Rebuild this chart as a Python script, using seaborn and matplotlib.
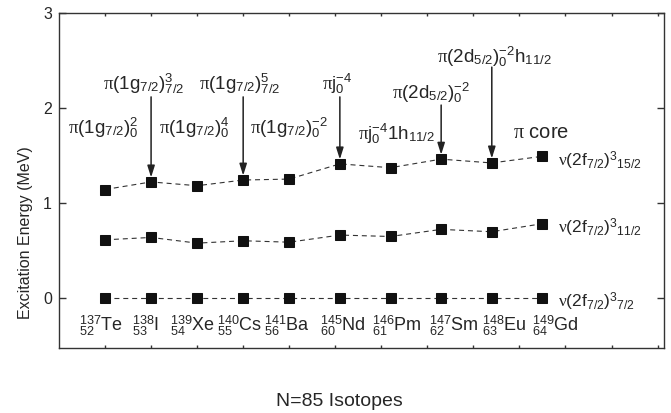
#  Excitation energies of the nu(2f7/2)^3 multiplet along the N=85 isotones

import pandas as pd
import matplotlib.pyplot as plt
import seaborn as sns

sns.set_style("ticks")
plt.rcParams['font.family'] = ['Liberation Sans', 'DejaVu Sans']
plt.rcParams['mathtext.fontset'] = 'custom'
plt.rcParams['mathtext.rm'] = 'Liberation Sans'
plt.rcParams['mathtext.it'] = 'Liberation Serif'
plt.rcParams['mathtext.bf'] = 'Liberation Sans:bold'

#
#  Data (MeV)
#

isotopes = [r'${}^{137}_{52}\mathrm{Te}$', r'${}^{138}_{53}\mathrm{I}$',
            r'${}^{139}_{54}\mathrm{Xe}$', r'${}^{140}_{55}\mathrm{Cs}$',
            r'${}^{141}_{56}\mathrm{Ba}$', r'${}^{145}_{60}\mathrm{Nd}$',
            r'${}^{146}_{61}\mathrm{Pm}$', r'${}^{147}_{62}\mathrm{Sm}$',
            r'${}^{148}_{63}\mathrm{Eu}$', r'${}^{149}_{64}\mathrm{Gd}$']
x_pos = [1, 2, 3, 4, 5, 6.1, 7.2, 8.3, 9.4, 10.5]
e_7_2 = [0, 0, 0, 0, 0, 0, 0, 0, 0, 0]
e_11_2 = [0.61, 0.635, 0.575, 0.60, 0.585, 0.66, 0.645, 0.72, 0.695, 0.78]
e_15_2 = [1.14, 1.22, 1.18, 1.24, 1.25, 1.41, 1.37, 1.46, 1.42, 1.49]

states = [r'$\nu(2\mathrm{f}_{7/2})^{3}{}_{7/2}$',
          r'$\nu(2\mathrm{f}_{7/2})^{3}{}_{11/2}$',
          r'$\nu(2\mathrm{f}_{7/2})^{3}{}_{15/2}$']

configs = [r'$\pi(1\mathrm{g}_{7/2})^{2}_{0}$',
           r'$\pi(1\mathrm{g}_{7/2})^{3}_{7/2}$',
           r'$\pi(1\mathrm{g}_{7/2})^{4}_{0}$',
           r'$\pi(1\mathrm{g}_{7/2})^{5}_{7/2}$',
           r'$\pi(1\mathrm{g}_{7/2})^{-2}_{0}$',
           r'$\pi\mathrm{j}^{-4}_{0}$',
           r'$\pi\mathrm{j}^{-4}_{0}1\mathrm{h}_{11/2}$',
           r'$\pi(2\mathrm{d}_{5/2})^{-2}_{0}$',
           r'$\pi(2\mathrm{d}_{5/2})^{-2}_{0}\mathrm{h}_{11/2}$',
           r'$\pi$ core']

#%%
#
#  Figure and axes sized to the reference
#

fig = plt.figure(figsize=(6.71, 4.13), dpi=100)
ax = fig.add_axes([59/671, 1-348/413, 605/671, 335/413])

for vals, lab in zip([e_7_2, e_11_2, e_15_2], states):
    df = pd.DataFrame({'x': x_pos, 'e': vals})
    sns.lineplot(data=df, x='x', y='e', ax=ax, color='#333333',
                 linewidth=0.8, linestyle=(0, (4.5, 3.5)), marker='s',
                 markersize=6.8, markerfacecolor='#111111',
                 markeredgecolor='#111111', sort=False)
    ax.annotate(lab, xy=(x_pos[-1], vals[-1]), xytext=(11, -7),
                textcoords='offset points', ha='left', va='baseline',
                fontsize=12.5)

#
#  Configuration labels: (text x, baseline, arrow start or None)
#

cfg_layout = [(0.97, 1.726, None), (1.85, 2.19, 2.116), (2.93, 1.726, None),
              (3.92, 2.19, 2.116), (4.99, 1.726, None), (6.05, 2.19, 2.116),
              (7.33, 1.663, None), (8.07, 2.095, 2.03), (9.45, 2.477, 2.43),
              (10.46, 1.684, None)]

for i, (txt, (tx, ty, ay)) in enumerate(zip(configs, cfg_layout)):
    fs = 14.5 if 'core' in txt else 13.5
    ax.text(tx, ty, txt, ha='center', va='baseline', fontsize=fs)
    if ay is not None:
        ax.annotate('', xy=(x_pos[i], e_15_2[i]), xytext=(x_pos[i], ay),
                    arrowprops=dict(arrowstyle='-|>,head_length=0.7,head_width=0.22',
                                    color='#222222', lw=1.1,
                                    shrinkA=0, shrinkB=3.2))

#
#  Isotope names under the ground states
#

iso_x = [0.92, 1.88, 2.89, 3.92, 4.94, 6.16, 7.33, 8.57, 9.68, 10.78]
for tx, name in zip(iso_x, isotopes):
    ax.text(tx, -0.355, name, ha='center', va='baseline', fontsize=13)

ax.set_xlim(0, 13.14)
ax.set_ylim(-0.53, 3)
ax.set_xticks(range(1, 14))
ax.set_xticklabels([])
ax.set_yticks([0, 1, 2, 3])
ax.tick_params(axis='y', direction='in', length=5, width=1, right=True,
               labelsize=11.5, pad=5, color='#333333')
ax.tick_params(axis='x', direction='in', length=2, width=1, top=True,
               color='#333333')
for s in ax.spines.values():
    s.set_color('#333333')
    s.set_linewidth(1.0)

ax.set_xlabel("N=85 Isotopes", fontsize=14)
ax.set_ylabel("Excitation Energy (MeV)", fontsize=11.5)
ax.xaxis.set_label_coords(0.464, -0.134)
ax.yaxis.set_label_coords(-0.043, 0.343)

fig.savefig('out.png', dpi=100)
